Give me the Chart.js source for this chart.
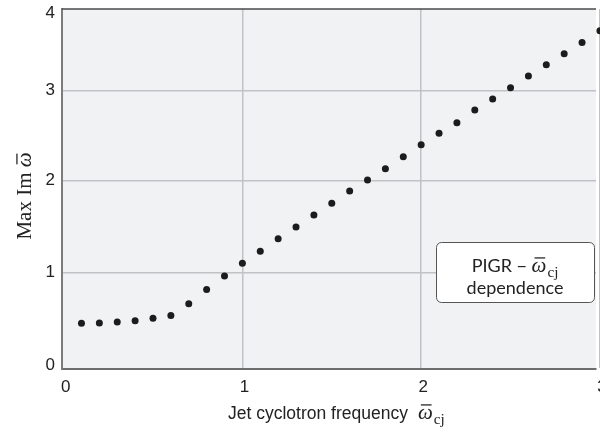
<!DOCTYPE html>
<html>
<head>
<meta charset="utf-8">
<title>PIGR dependence on jet cyclotron frequency</title>
<script src="https://cdn.jsdelivr.net/npm/chart.js@4.4.0/dist/chart.umd.min.js"></script>
<style>
  html, body { margin: 0; padding: 0; background: #fff; }
  #wrap { width: 600px; height: 431px; }
</style>
</head>
<body>
<div id="wrap"><canvas id="pigrChart" width="600" height="431"></canvas></div>
<script>
// jet cyclotron frequency and the max growth rate found for it
const cyclotronFreq = [0.1, 0.2, 0.3, 0.4, 0.5, 0.6, 0.7, 0.8, 0.9, 1.0,
                       1.1, 1.2, 1.3, 1.4, 1.5, 1.6, 1.7, 1.8, 1.9, 2.0,
                       2.1, 2.2, 2.3, 2.4, 2.5, 2.6, 2.7, 2.8, 2.9, 3.0];
const maxGrowth = [0.474, 0.477, 0.485, 0.498, 0.526, 0.554, 0.674, 0.822, 0.962, 1.098,
                   1.229, 1.367, 1.495, 1.626, 1.754, 1.888, 2.008, 2.133, 2.267, 2.400,
                   2.527, 2.644, 2.786, 2.908, 3.037, 3.181, 3.316, 3.451, 3.590, 3.733];
const xTicks = [0, 1, 2, 3];
const yTicks = [0, 1, 2, 3, 4];

// the y axis is not evenly spaced: fraction of axis height at each y tick
const yTickFractions = [0, 0.2686, 0.5231, 0.7731, 1];

function valueToFraction(v) {
    let i = 0;
    while (i < yTicks.length - 2 && v > yTicks[i + 1]) i++;
    const t = (v - yTicks[i]) / (yTicks[i + 1] - yTicks[i]);
    return yTickFractions[i] + t * (yTickFractions[i + 1] - yTickFractions[i]);
}
function fractionToValue(f) {
    let i = 0;
    while (i < yTickFractions.length - 2 && f > yTickFractions[i + 1]) i++;
    const t = (f - yTickFractions[i]) / (yTickFractions[i + 1] - yTickFractions[i]);
    return yTicks[i] + t * (yTicks[i + 1] - yTicks[i]);
}

class PiecewiseScale extends Chart.LinearScale {
    getPixelForValue(value) {
        if (value === null || value === undefined || isNaN(value)) return NaN;
        return this.getPixelForDecimal(valueToFraction(value));
    }
    getValueForPixel(pixel) {
        return fractionToValue(this.getDecimalForPixel(pixel));
    }
    // keep the end labels inside the frame
    _computeLabelItems(chartArea) {
        const items = super._computeLabelItems(chartArea);
        if (items.length) {
            items[0].options.translation[1] -= 4;
            items[items.length - 1].options.translation[1] += 4;
        }
        return items;
    }
}
PiecewiseScale.id = 'piecewise';
PiecewiseScale.defaults = Chart.LinearScale.defaults;
Chart.register(PiecewiseScale);

const serif = '"Liberation Serif", "DejaVu Serif", serif';
const sans = '"Liberation Sans", Arial, sans-serif';
const boxFont = 'Lato, "Noto Sans", sans-serif';

// italic omega with a bar over it, optional subscript; returns drawn width
function drawOmega(ctx, x, y, size, sub) {
    ctx.font = 'italic ' + size + 'px ' + serif;
    ctx.textAlign = 'left';
    ctx.fillText('\u03C9', x, y);
    const w = ctx.measureText('\u03C9').width;
    ctx.fillRect(x + size * 0.14, y - size * 0.7, w * 0.72, Math.max(1.2, size * 0.06));
    let total = w;
    if (sub) {
        ctx.font = (size * 0.72) + 'px ' + serif;
        ctx.fillText(sub, x + w + 1, y + size * 0.22);
        total += 1 + ctx.measureText(sub).width;
    }
    return total;
}

const plotBackground = {
    id: 'plotBackground',
    beforeDraw(chart) {
        const { ctx, chartArea: a } = chart;
        ctx.save();
        ctx.fillStyle = '#f1f2f4';
        ctx.fillRect(a.left, a.top, a.right - a.left, a.bottom - a.top);
        ctx.restore();
    }
};

const overlay = {
    id: 'overlay',
    afterDraw(chart) {
        const { ctx, chartArea: a } = chart;
        ctx.save();

        // top frame line
        ctx.strokeStyle = '#4a4a4a';
        ctx.lineWidth = 1.5;
        ctx.beginPath();
        ctx.moveTo(a.left, a.top);
        ctx.lineTo(a.right, a.top);
        ctx.stroke();

        ctx.fillStyle = '#222';
        ctx.textBaseline = 'alphabetic';

        // x axis title
        ctx.font = '17.5px ' + sans;
        const xText = 'Jet cyclotron frequency';
        const xw = ctx.measureText(xText).width;
        const xStart = 228;
        const xBase = a.bottom + 50;
        ctx.textAlign = 'left';
        ctx.fillText(xText, xStart, xBase);
        drawOmega(ctx, xStart + xw + 10, xBase, 21, 'cj');

        // y axis title, rotated
        ctx.save();
        ctx.translate(31, 196);
        ctx.rotate(-Math.PI / 2);
        ctx.font = '21px ' + serif;
        const yText = 'Max Im ';
        const yw = ctx.measureText(yText).width;
        ctx.font = 'italic 21px ' + serif;
        const ow = ctx.measureText('\u03C9').width;
        const y0 = -(yw + ow) / 2;
        ctx.font = '21px ' + serif;
        ctx.textAlign = 'left';
        ctx.fillText(yText, y0, 0);
        drawOmega(ctx, y0 + yw, 0, 21, '');
        ctx.restore();

        // annotation box
        const bx = 436, by = 242, bw = 158, bh = 60;
        ctx.beginPath();
        ctx.roundRect(bx + 0.5, by + 0.5, bw, bh, 5);
        ctx.fillStyle = '#fff';
        ctx.fill();
        ctx.strokeStyle = '#555';
        ctx.lineWidth = 1;
        ctx.stroke();

        ctx.fillStyle = '#222';
        ctx.font = '18px ' + boxFont;
        const l1 = 'PIGR \u2212 ';
        const l1w = ctx.measureText(l1).width;
        ctx.font = 'italic 21px ' + serif;
        const omw = ctx.measureText('\u03C9').width;
        ctx.font = '15.1px ' + serif;
        const cjw = ctx.measureText('cj').width;
        const line1 = l1w + omw + 1 + cjw;
        const cx = bx + bw / 2;
        const lx = cx - line1 / 2;
        ctx.font = '18px ' + boxFont;
        ctx.textAlign = 'left';
        ctx.fillText(l1, lx, by + 30);
        drawOmega(ctx, lx + l1w, by + 30, 21, 'cj');

        ctx.font = '18px ' + boxFont;
        ctx.textAlign = 'center';
        ctx.fillText('dependence', cx, by + 52);

        ctx.restore();
    }
};

const points = cyclotronFreq.map((x, i) => ({ x: x, y: maxGrowth[i] }));

new Chart(document.getElementById('pigrChart'), {
    type: 'scatter',
    data: {
        datasets: [{
            data: points,
            pointRadius: 3.5,
            pointBackgroundColor: '#1c1c1c',
            pointBorderWidth: 0,
            showLine: false,
            clip: false
        }]
    },
    options: {
        responsive: false,
        animation: false,
        layout: { padding: { top: 9, left: 0, right: 0, bottom: 0 } },
        plugins: {
            legend: { display: false },
            tooltip: { enabled: false }
        },
        scales: {
            x: {
                type: 'linear',
                min: -0.009,
                max: 2.978,
                afterBuildTicks: s => { s.ticks = xTicks.map(v => ({ value: v })); },
                afterFit: s => { s.height = 62; s.paddingLeft = 0; s.paddingRight = 0; },
                grid: {
                    drawTicks: false,
                    lineWidth: 1.5,
                    color: c => (c.tick && c.tick.value === 0) ? 'rgba(0,0,0,0)' : '#c2c2c6'
                },
                border: { color: '#6e6e6e', width: 2 },
                ticks: {
                    padding: 8,
                    labelOffset: 2,
                    color: '#222',
                    font: { family: sans, size: 17 },
                    maxRotation: 0,
                    autoSkip: false
                }
            },
            y: {
                type: 'piecewise',
                min: 0,
                max: 4,
                afterBuildTicks: s => { s.ticks = yTicks.map(v => ({ value: v })); },
                afterFit: s => { s.width = 62; s.paddingTop = 0; s.paddingBottom = 0; },
                grid: {
                    drawTicks: false,
                    lineWidth: 1.5,
                    color: c => (c.tick && (c.tick.value === 0 || c.tick.value === 4)) ? 'rgba(0,0,0,0)' : '#c2c2c6'
                },
                border: { color: '#7c7c7c', width: 2 },
                ticks: {
                    padding: 7,
                    color: '#222',
                    font: { family: sans, size: 17 },
                    autoSkip: false
                }
            }
        }
    },
    plugins: [plotBackground, overlay]
});
</script>
</body>
</html>
